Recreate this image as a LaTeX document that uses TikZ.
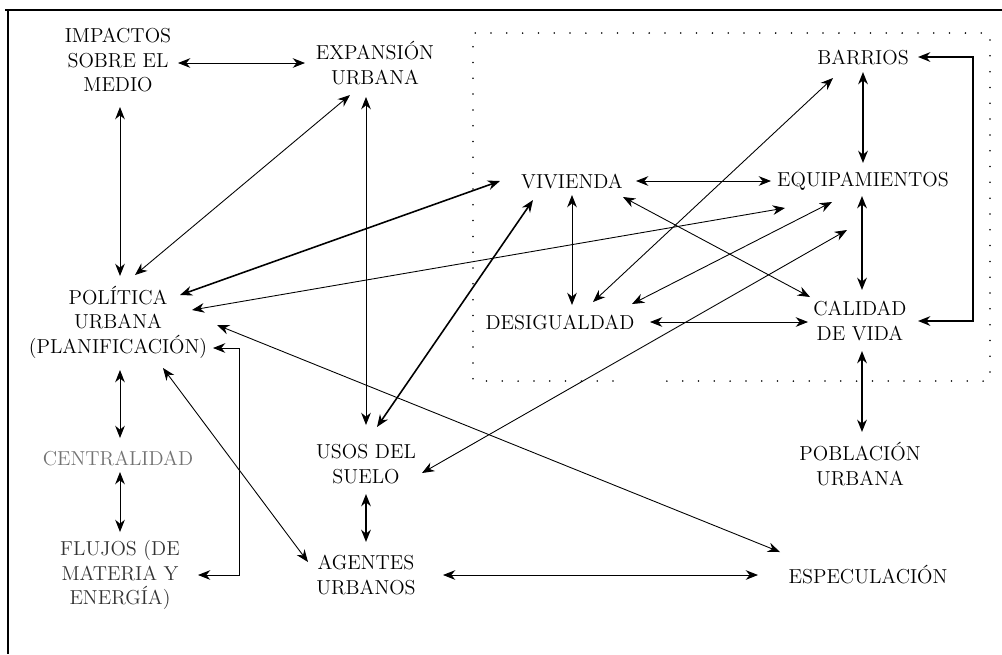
\documentclass[tikz,border=0pt]{standalone}
\usepackage{tikz}
\usetikzlibrary{calc,arrows.meta}

\begin{document}
\begin{tikzpicture}[x=0.02cm,y=-0.02cm,
    lbl/.style={align=center,inner sep=0pt,font=\fontsize{11.5}{14}\selectfont},
    link/.style={{Stealth[length=7pt,width=5.5pt]}-{Stealth[length=7pt,width=5.5pt]},line width=0.5pt},
    strong/.style={link,line width=0.9pt},
    zone/.style={line width=1pt,line cap=round,dash pattern=on 0pt off 9pt}]
      \useasboundingbox (0,0) rectangle (1002,654);
      % frame of the scan
      \draw[line width=1.4pt] (5,10) -- (1002,10);
      \draw[line width=1.4pt] (8,10) -- (8,654);
      % dotted zone
      \draw[zone] (613,381) -- (473,381) -- (473,33) -- (990,33) -- (990,381) -- (660,381);

      \node[lbl] (impactos) at (118,60) {IMPACTOS\\SOBRE EL\\MEDIO};
      \node[lbl] (expansion) at (375,63) {EXPANSIÓN\\URBANA};
      \node[lbl] (barrios) at (863,57) {BARRIOS};
      \node[lbl] (vivienda) at (572,181) {VIVIENDA};
      \node[lbl] (equip) at (863,181) {EQUIPAMIENTOS};
      \node[lbl] (desig) at (560,322) {DESIGUALDAD};
      \node[lbl] (calidad) at (860,321) {CALIDAD\\DE VIDA};
      \node[lbl] (politica) at (118,322) {POLÍTICA\\URBANA\\(PLANIFICACIÓN)};
      \node[lbl,text=black!55] (centralidad) at (118,458) {CENTRALIDAD};
      \node[lbl,text=black!80] (flujos) at (120,575) {FLUJOS (DE\\MATERIA Y\\ENERGÍA)};
      \node[lbl] (usos) at (366,464) {USOS DEL\\SUELO};
      \node[lbl] (agentes) at (366,575) {AGENTES\\URBANOS};
      \node[lbl] (poblacion) at (860,464) {POBLACIÓN\\URBANA};
      \node[lbl] (especulacion) at (868,575) {ESPECULACIÓN};

      % left column
      \draw[link] ($(impactos)+(60,3)$) -- ($(expansion)+(-70,0)$);
      \draw[link] ($(impactos)+(2,47)$) -- ($(politica)+(2,-46)$);
      \draw[link] ($(expansion)+(-25,32)$) -- ($(politica)+(17,-47)$);
      \draw[link] ($(expansion)+(-9,34)$) -- ($(usos)+(0,-39)$);
      \draw[strong] ($(vivienda)+(-72,0)$) -- ($(politica)+(62,-27)$);
      \draw[link] ($(equip)+(-78,27)$) -- ($(politica)+(74,-12)$);
      \draw[link] ($(politica)+(99,3)$) -- ($(especulacion)+(-88,-23)$);
      \draw[link] ($(politica)+(95,26)$) -- ++(26,0) |- ($(flujos)+(78,0)$);
      \draw[link] ($(politica)+(45,46)$) -- ($(agentes)+(-58,-13)$);
      \draw[link] ($(politica)+(2,48)$) -- ($(centralidad)+(2,-20)$);
      \draw[link] ($(centralidad)+(2,14)$) -- ($(flujos)+(0,-43)$);
      % middle
      \draw[strong] ($(vivienda)+(-39,19)$) -- ($(usos)+(11,-37)$);
      \draw[strong] ($(usos)+(0,30)$) -- ($(agentes)+(0,-33)$);
      \draw[link] ($(agentes)+(77,0)$) -- ($(especulacion)+(-110,0)$);
      % dotted zone links
      \draw[link] ($(vivienda)+(64,0)$) -- ($(equip)+(-92,0)$);
      \draw[link] ($(vivienda)+(0,14)$) -- ($(desig)+(12,-17)$);
      \draw[link] ($(vivienda)+(51,16)$) -- ($(calidad)+(-50,-24)$);
      \draw[link] ($(barrios)+(-30,21)$) -- ($(desig)+(33,-20)$);
      \draw[strong] ($(barrios)+(0,15)$) -- ($(equip)+(0,-18)$);
      \draw[link] ($(equip)+(-31,21)$) -- ($(desig)+(72,-18)$);
      \draw[strong] ($(equip)+(-1,15)$) -- ($(calidad)+(2,-31)$);
      \draw[link] ($(desig)+(90,0)$) -- ($(calidad)+(-52,1)$);
      \draw[link] ($(equip)+(-16,49)$) -- ($(usos)+(56,9)$);
      \draw[strong] ($(barrios)+(55,0)$) -- ++(55,0) |- ($(calidad)+(58,0)$);
      \draw[strong] ($(calidad)+(2,30)$) -- ($(poblacion)+(2,-32)$);
    \end{tikzpicture}
\end{document}
